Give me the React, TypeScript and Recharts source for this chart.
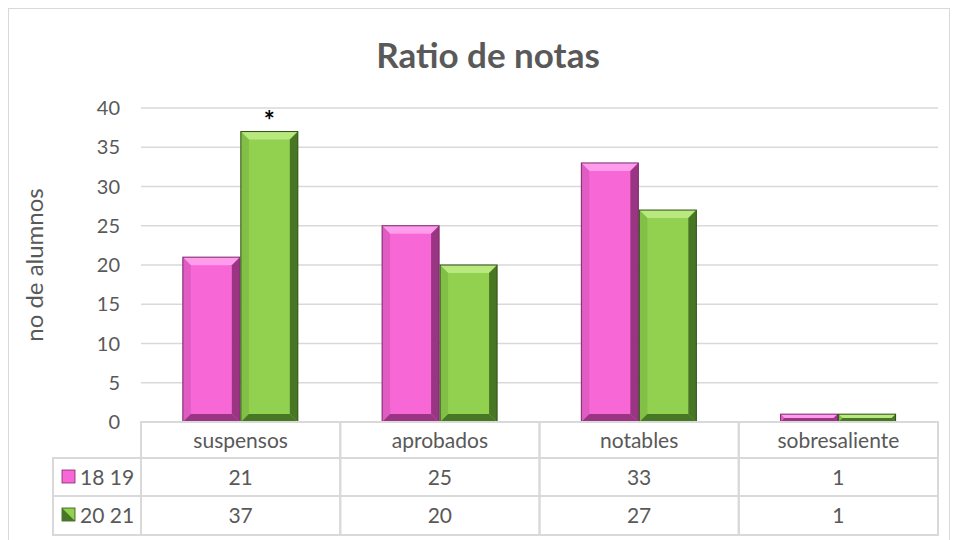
import { BarChart, Bar, XAxis, YAxis, CartesianGrid, LabelList } from "recharts";

const categories = ["suspensos", "aprobados", "notables", "sobresaliente"];
const notas1819 = [21, 25, 33, 1];
const notas2021 = [37, 20, 27, 1];
const marcas2021 = ["*", "", "", ""];
const seriesNames = ["18 19", "20 21"];
const yTicks = [0, 5, 10, 15, 20, 25, 30, 35, 40];

const data = categories.map((cat, i) => ({
  cat,
  a: notas1819[i],
  b: notas2021[i],
  mark: marcas2021[i],
}));

const W = 958;
const H = 540;
const Y_AXIS_W = 60;
const X_AXIS_H = 118;
const MARGIN = { top: 108, right: 20, bottom: 0, left: 81 };
const PLOT_W = W - MARGIN.left - Y_AXIS_W - MARGIN.right;
const TEXT = "#595959";
const GRID = "#d9d9d9";
const FONT = "Lato, 'Open Sans', sans-serif";

const palette = {
  pink: { face: "#f768d6", light: "#ff9ceb", side: "#e05cc3", dark: "#9a3584", edge: "#7a2a6a" },
  green: { face: "#92d050", light: "#b8e87e", side: "#82bf46", dark: "#477624", edge: "#2f4f15" },
};

function bevel(c: typeof palette.pink) {
  return (props: any) => {
    const { x, y, width, height } = props;
    if (!height || height <= 0) return null;
    const b = Math.min(8, width / 4, height / 2);
    const r = x + width;
    const bt = y + height;
    return (
      <g>
        <rect x={x} y={y} width={width} height={height} fill={c.face} />
        <polygon points={`${x},${y} ${r},${y} ${r - b},${y + b} ${x + b},${y + b}`} fill={c.light} />
        <polygon points={`${x},${y} ${x + b},${y + b} ${x + b},${bt - b} ${x},${bt}`} fill={c.side} />
        <polygon points={`${r},${y} ${r - b},${y + b} ${r - b},${bt - b} ${r},${bt}`} fill={c.dark} />
        <polygon points={`${x},${bt} ${x + b},${bt - b} ${r - b},${bt - b} ${r},${bt}`} fill={c.dark} />
        <rect x={x} y={y} width={width} height={height} fill="none" stroke={c.edge} strokeWidth={1} />
      </g>
    );
  };
}

function LegendKey({ x, y, c, shaded }: { x: number; y: number; c: typeof palette.pink; shaded: boolean }) {
  return (
    <g>
      <rect x={x} y={y} width={13} height={13} fill={c.face} stroke={c.edge} strokeWidth={0.8} />
      {shaded && <polygon points={`${x},${y} ${x + 13},${y + 13} ${x},${y + 13}`} fill={c.dark} />}
    </g>
  );
}

function TableTick(props: any) {
  const { x, y, payload } = props;
  const i = payload.index;
  const cellW = PLOT_W / categories.length;
  const left = x - cellW / 2;
  const rowH = [36, 38, 39];
  const y1 = y + rowH[0];
  const y2 = y1 + rowH[1];
  const y3 = y2 + rowH[2];
  const txt = { fill: TEXT, fontSize: 21, fontFamily: FONT, textAnchor: "middle" as const };
  const legendLeft = MARGIN.left - 28;
  return (
    <g>
      <rect x={left} y={y} width={cellW} height={y3 - y} fill="none" stroke={GRID} strokeWidth={2} />
      <line x1={left} x2={left + cellW} y1={y1} y2={y1} stroke={GRID} strokeWidth={2} />
      <line x1={left} x2={left + cellW} y1={y2} y2={y2} stroke={GRID} strokeWidth={2} />
      <text x={x} y={y + 26} {...txt}>{payload.value}</text>
      <text x={x} y={y1 + 27} {...txt}>{notas1819[i]}</text>
      <text x={x} y={y2 + 27} {...txt}>{notas2021[i]}</text>
      {i === 0 && (
        <g>
          <rect x={legendLeft} y={y1} width={left - legendLeft} height={y3 - y1} fill="none" stroke={GRID} strokeWidth={2} />
          <line x1={legendLeft} x2={left} y1={y2} y2={y2} stroke={GRID} strokeWidth={2} />
          <LegendKey x={legendLeft + 9} y={y1 + 12} c={palette.pink} shaded={false} />
          <LegendKey x={legendLeft + 9} y={y2 + 12} c={palette.green} shaded={true} />
          <text x={legendLeft + 27} y={y1 + 27} fill={TEXT} fontSize={21} fontFamily={FONT}>{seriesNames[0]}</text>
          <text x={legendLeft + 27} y={y2 + 27} fill={TEXT} fontSize={21} fontFamily={FONT}>{seriesNames[1]}</text>
        </g>
      )}
    </g>
  );
}

export default function App() {
  return (
    <div style={{ position: "fixed", left: 0, top: 0, width: W, height: H, background: "#fff", overflow: "hidden" }}>
      <div
        style={{
          position: "absolute",
          left: 8,
          top: 8,
          width: 942,
          height: 600,
          border: "1px solid #d9d9d9",
          boxSizing: "border-box",
        }}
      />
      <div
        style={{
          position: "absolute",
          left: 0,
          width: W,
          top: 32,
          paddingLeft: 18,
          boxSizing: "border-box",
          textAlign: "center",
          fontFamily: FONT,
          fontWeight: 700,
          fontSize: 35,
          lineHeight: "44px",
          color: TEXT,
        }}
      >
        Ratio de notas
      </div>
      <div style={{ position: "absolute", left: 0, top: 0 }}>
        <BarChart width={W} height={H} data={data} margin={MARGIN} barGap={1} barCategoryGap="21%">
          <CartesianGrid vertical={false} stroke={GRID} strokeWidth={1.5} />
          <XAxis
            dataKey="cat"
            axisLine={false}
            tickLine={false}
            tickSize={0}
            tickMargin={0}
            height={X_AXIS_H}
            interval={0}
            tick={<TableTick />}
          />
          <YAxis
            domain={[0, 40]}
            ticks={yTicks}
            interval={0}
            axisLine={false}
            tickLine={false}
            tickSize={0}
            tickMargin={21}
            width={Y_AXIS_W}
            tick={{ fill: TEXT, fontSize: 20, fontFamily: FONT }}
            label={{
              content: (p: any) => {
                const vb = p.viewBox || { y: MARGIN.top, height: H - MARGIN.top - X_AXIS_H };
                const cy = vb.y + vb.height / 2;
                return (
                  <text
                    x={33}
                    y={cy}
                    transform={`rotate(-90 33 ${cy})`}
                    textAnchor="middle"
                    dominantBaseline="central"
                    fill={TEXT}
                    fontSize={24}
                    fontFamily={FONT}
                  >
                    no de alumnos
                  </text>
                );
              },
            }}
          />
          <Bar dataKey="a" name={seriesNames[0]} fill={palette.pink.face} shape={bevel(palette.pink)} isAnimationActive={false} />
          <Bar dataKey="b" name={seriesNames[1]} fill={palette.green.face} shape={bevel(palette.green)} isAnimationActive={false}>
            <LabelList dataKey="mark" position="top" offset={2} fill="#000" fontSize={26} fontWeight={700} fontFamily={FONT} />
          </Bar>
        </BarChart>
      </div>
    </div>
  );
}
